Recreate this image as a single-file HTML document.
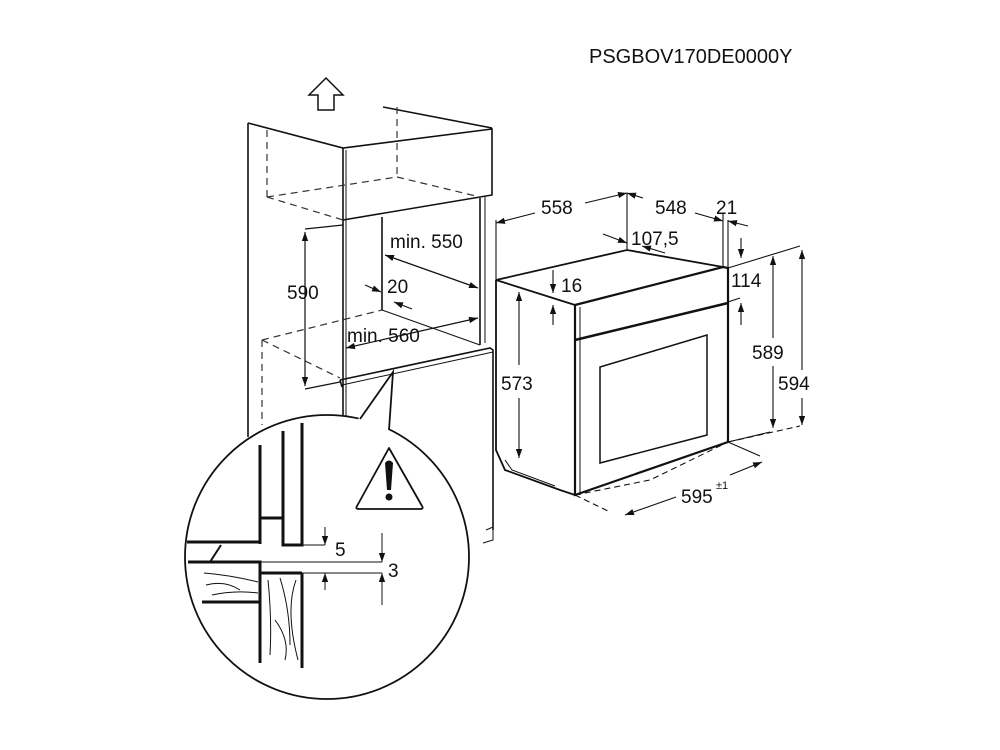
<!DOCTYPE html>
<html><head><style>
html,body{margin:0;padding:0;background:#fff;}
svg{display:block;}
text{font-family:"Liberation Sans",Arial,sans-serif;fill:#111;}
</style></head><body>
<svg width="1000" height="750" viewBox="0 0 1000 750" xmlns="http://www.w3.org/2000/svg">
<defs>
<marker id="a" viewBox="0 0 10 10" refX="10" refY="5" markerWidth="9" markerHeight="9" orient="auto-start-reverse" markerUnits="userSpaceOnUse"><path d="M0,1.5 L10,5 L0,8.5 z" fill="#111"/></marker>
</defs>
<text x="589" y="63" font-size="20">PSGBOV170DE0000Y</text>

<path d="M309,95 L326,78 L343,95 L334,95 L334,110 L318,110 L318,95 Z" fill="none" stroke="#111" stroke-width="1.5"/>

<g fill="none" stroke="#111" stroke-width="1.6">
<line x1="248" y1="123" x2="248" y2="437"/>
<path d="M248,123 L343,148 L492,129 L492,195 L343,220"/>
<line x1="343" y1="148" x2="343" y2="433"/>
<path d="M383,107 L492,128"/>
<line x1="346" y1="150" x2="346" y2="420" stroke-width="1"/>
<line x1="480" y1="198" x2="480" y2="345"/>
<line x1="485" y1="197" x2="485" y2="343" stroke-width="1"/>
<line x1="382" y1="217" x2="382" y2="310"/>
<line x1="382" y1="310" x2="480" y2="345" stroke-width="1"/>
<path d="M340,380 L490,348 L493,350 L493,530"/>
<path d="M342,385 L493,352" stroke-width="1"/>
<line x1="340" y1="380" x2="342" y2="387"/>
<path d="M486,530 L493,527 L493,540 L483,543" stroke-width="1"/>
</g>
<g fill="none" stroke="#333" stroke-width="1.2" stroke-dasharray="7,5">
<line x1="267" y1="130" x2="267" y2="197"/>
<line x1="267" y1="197" x2="343" y2="220"/>
<line x1="267" y1="197" x2="397" y2="177"/>
<line x1="397" y1="107" x2="397" y2="177"/>
<line x1="397" y1="177" x2="480" y2="197"/>
<line x1="262" y1="340" x2="382" y2="310"/>
<line x1="262" y1="340" x2="340" y2="378"/>
<line x1="262" y1="340" x2="262" y2="425"/>
</g>
<g fill="none" stroke="#111" stroke-width="1.2">
<line x1="305" y1="229" x2="343" y2="225"/>
<line x1="305" y1="389" x2="340" y2="382"/>
<line x1="305" y1="232" x2="305" y2="386" marker-start="url(#a)" marker-end="url(#a)"/>
<line x1="385" y1="255" x2="478" y2="288" marker-start="url(#a)" marker-end="url(#a)"/>
<line x1="346" y1="348" x2="478" y2="318" marker-start="url(#a)" marker-end="url(#a)"/>
<line x1="365" y1="285" x2="381" y2="292" marker-end="url(#a)"/>
<line x1="412" y1="309" x2="394" y2="302" marker-end="url(#a)"/>
</g>
<text x="287" y="299" font-size="19">590</text>
<text x="390" y="248" font-size="19">min. 550</text>
<text x="387" y="293" font-size="19">20</text>
<text x="347" y="342" font-size="19">min. 560</text>

<g fill="none" stroke="#111" stroke-width="1.8">
<path d="M496,280 L496,450 L505,470 L560,490 L575,495"/>
<path d="M496,280 L627,250 L723,267"/>
<path d="M496,280 L575,305"/>
<path d="M575,305 L723,267 L728,268 L728,442 L575,495 Z" stroke-width="2.2"/>
<line x1="580" y1="307" x2="580" y2="495" stroke-width="1"/>
<path d="M575,340 L728,303" stroke-width="2.5"/>
<path d="M600,367 L707,335 L707,435 L600,463 Z" stroke-width="1.5"/>
<path d="M505,460 L512,470 L555,486" stroke-width="1"/>
</g>
<g fill="none" stroke="#111" stroke-width="1.1">
<line x1="496" y1="280" x2="496" y2="220"/>
<line x1="627" y1="193" x2="627" y2="250"/>
<line x1="723" y1="267" x2="723" y2="213"/>
<line x1="728" y1="267" x2="728" y2="220"/>
<line x1="728" y1="268" x2="800" y2="246"/>
<line x1="728" y1="302" x2="740" y2="298"/>
<line x1="728" y1="442" x2="800" y2="426" stroke-dasharray="6,4"/>
<line x1="728" y1="442" x2="770" y2="432"/>
<path d="M728,442 L760,456" />
<path d="M575,495 L610,512 M575,495 L650,480 L728,442" stroke-dasharray="6,4"/>
<line x1="496" y1="223" x2="535" y2="213" marker-start="url(#a)"/>
<line x1="585" y1="203" x2="627" y2="193" marker-end="url(#a)"/>
<line x1="627" y1="193" x2="643" y2="198" marker-start="url(#a)"/>
<line x1="695" y1="213" x2="723" y2="221" marker-end="url(#a)"/>
<line x1="728" y1="221" x2="748" y2="226" marker-start="url(#a)"/>
<line x1="603" y1="234" x2="627" y2="243" marker-end="url(#a)"/>
<line x1="665" y1="253" x2="642" y2="246" marker-end="url(#a)"/>
<line x1="741" y1="238" x2="741" y2="258" marker-end="url(#a)"/>
<line x1="741" y1="325" x2="741" y2="303" marker-end="url(#a)"/>
<line x1="553" y1="270" x2="553" y2="293" marker-end="url(#a)"/>
<line x1="553" y1="325" x2="553" y2="305" marker-end="url(#a)"/>
<line x1="519" y1="292" x2="519" y2="365" marker-start="url(#a)"/>
<line x1="519" y1="398" x2="519" y2="458" marker-end="url(#a)"/>
<line x1="773" y1="256" x2="773" y2="338" marker-start="url(#a)"/>
<line x1="773" y1="366" x2="773" y2="428" marker-end="url(#a)"/>
<line x1="802" y1="250" x2="802" y2="370" marker-start="url(#a)"/>
<line x1="802" y1="398" x2="802" y2="425" marker-end="url(#a)"/>
<line x1="625" y1="515" x2="676" y2="497" marker-start="url(#a)"/>
<line x1="730" y1="475" x2="762" y2="462" marker-end="url(#a)"/>
</g>
<text x="541" y="214" font-size="19">558</text>
<text x="655" y="214" font-size="19">548</text>
<text x="716" y="214" font-size="19">21</text>
<text x="631" y="245" font-size="19">107,5</text>
<text x="561" y="292" font-size="19">16</text>
<text x="731" y="287" font-size="19">114</text>
<text x="752" y="359" font-size="19">589</text>
<text x="778" y="390" font-size="19">594</text>
<text x="501" y="390" font-size="19">573</text>
<text x="681" y="503" font-size="19">595</text>
<text x="716" y="489" font-size="11">±1</text>

<circle cx="327" cy="557" r="142" fill="#fff" stroke="#111" stroke-width="1.8"/>
<path d="M356,422 L393,372 L389,430 Z" fill="#fff" stroke="none"/>
<path d="M360,419 L393,372 L389,430" fill="none" stroke="#111" stroke-width="1.8"/>
<path d="M389,448 L357,506 Q355,509 359,509 L420,509 Q424,509 422,506 Z" fill="none" stroke="#111" stroke-width="1.8" stroke-linejoin="round"/>
<path d="M385,463 Q389,458 393,463 L391,490 L387,490 Z" fill="#111"/>
<circle cx="389" cy="497" r="3.5" fill="#111"/>
<g fill="none" stroke="#111" stroke-width="3">
<line x1="260" y1="445" x2="260" y2="544"/>
<line x1="187" y1="542" x2="260" y2="542"/>
<path d="M283,431 L283,545 L302,545 L302,423"/>
<line x1="260" y1="518" x2="283" y2="518"/>
<path d="M188,562 L260,562 L260,602 L202,602"/>
<path d="M210,562 L221,545" stroke-width="2"/>
<path d="M260,573 L260,663 M302,573 L302,668 M260,573 L302,573"/>
</g>
<g fill="none" stroke="#111" stroke-width="1">
<line x1="302" y1="545" x2="325" y2="545"/>
<line x1="260" y1="562" x2="382" y2="562"/>
<line x1="302" y1="573" x2="382" y2="573"/>
<line x1="325" y1="527" x2="325" y2="545" marker-end="url(#a)"/>
<line x1="325" y1="590" x2="325" y2="573" marker-end="url(#a)"/>
<line x1="382" y1="533" x2="382" y2="562" marker-end="url(#a)"/>
<line x1="382" y1="605" x2="382" y2="573" marker-end="url(#a)"/>
<path d="M204,573 Q230,575 258,582 M206,585 Q225,580 240,590 M212,595 Q235,590 258,593"/>
<path d="M268,580 Q272,620 270,655 M280,578 Q290,610 290,645 M296,580 Q285,610 298,660 M275,620 Q290,640 285,660"/>
</g>
<text x="335" y="556" font-size="19">5</text>
<text x="388" y="577" font-size="19">3</text>
</svg>
</body></html>
